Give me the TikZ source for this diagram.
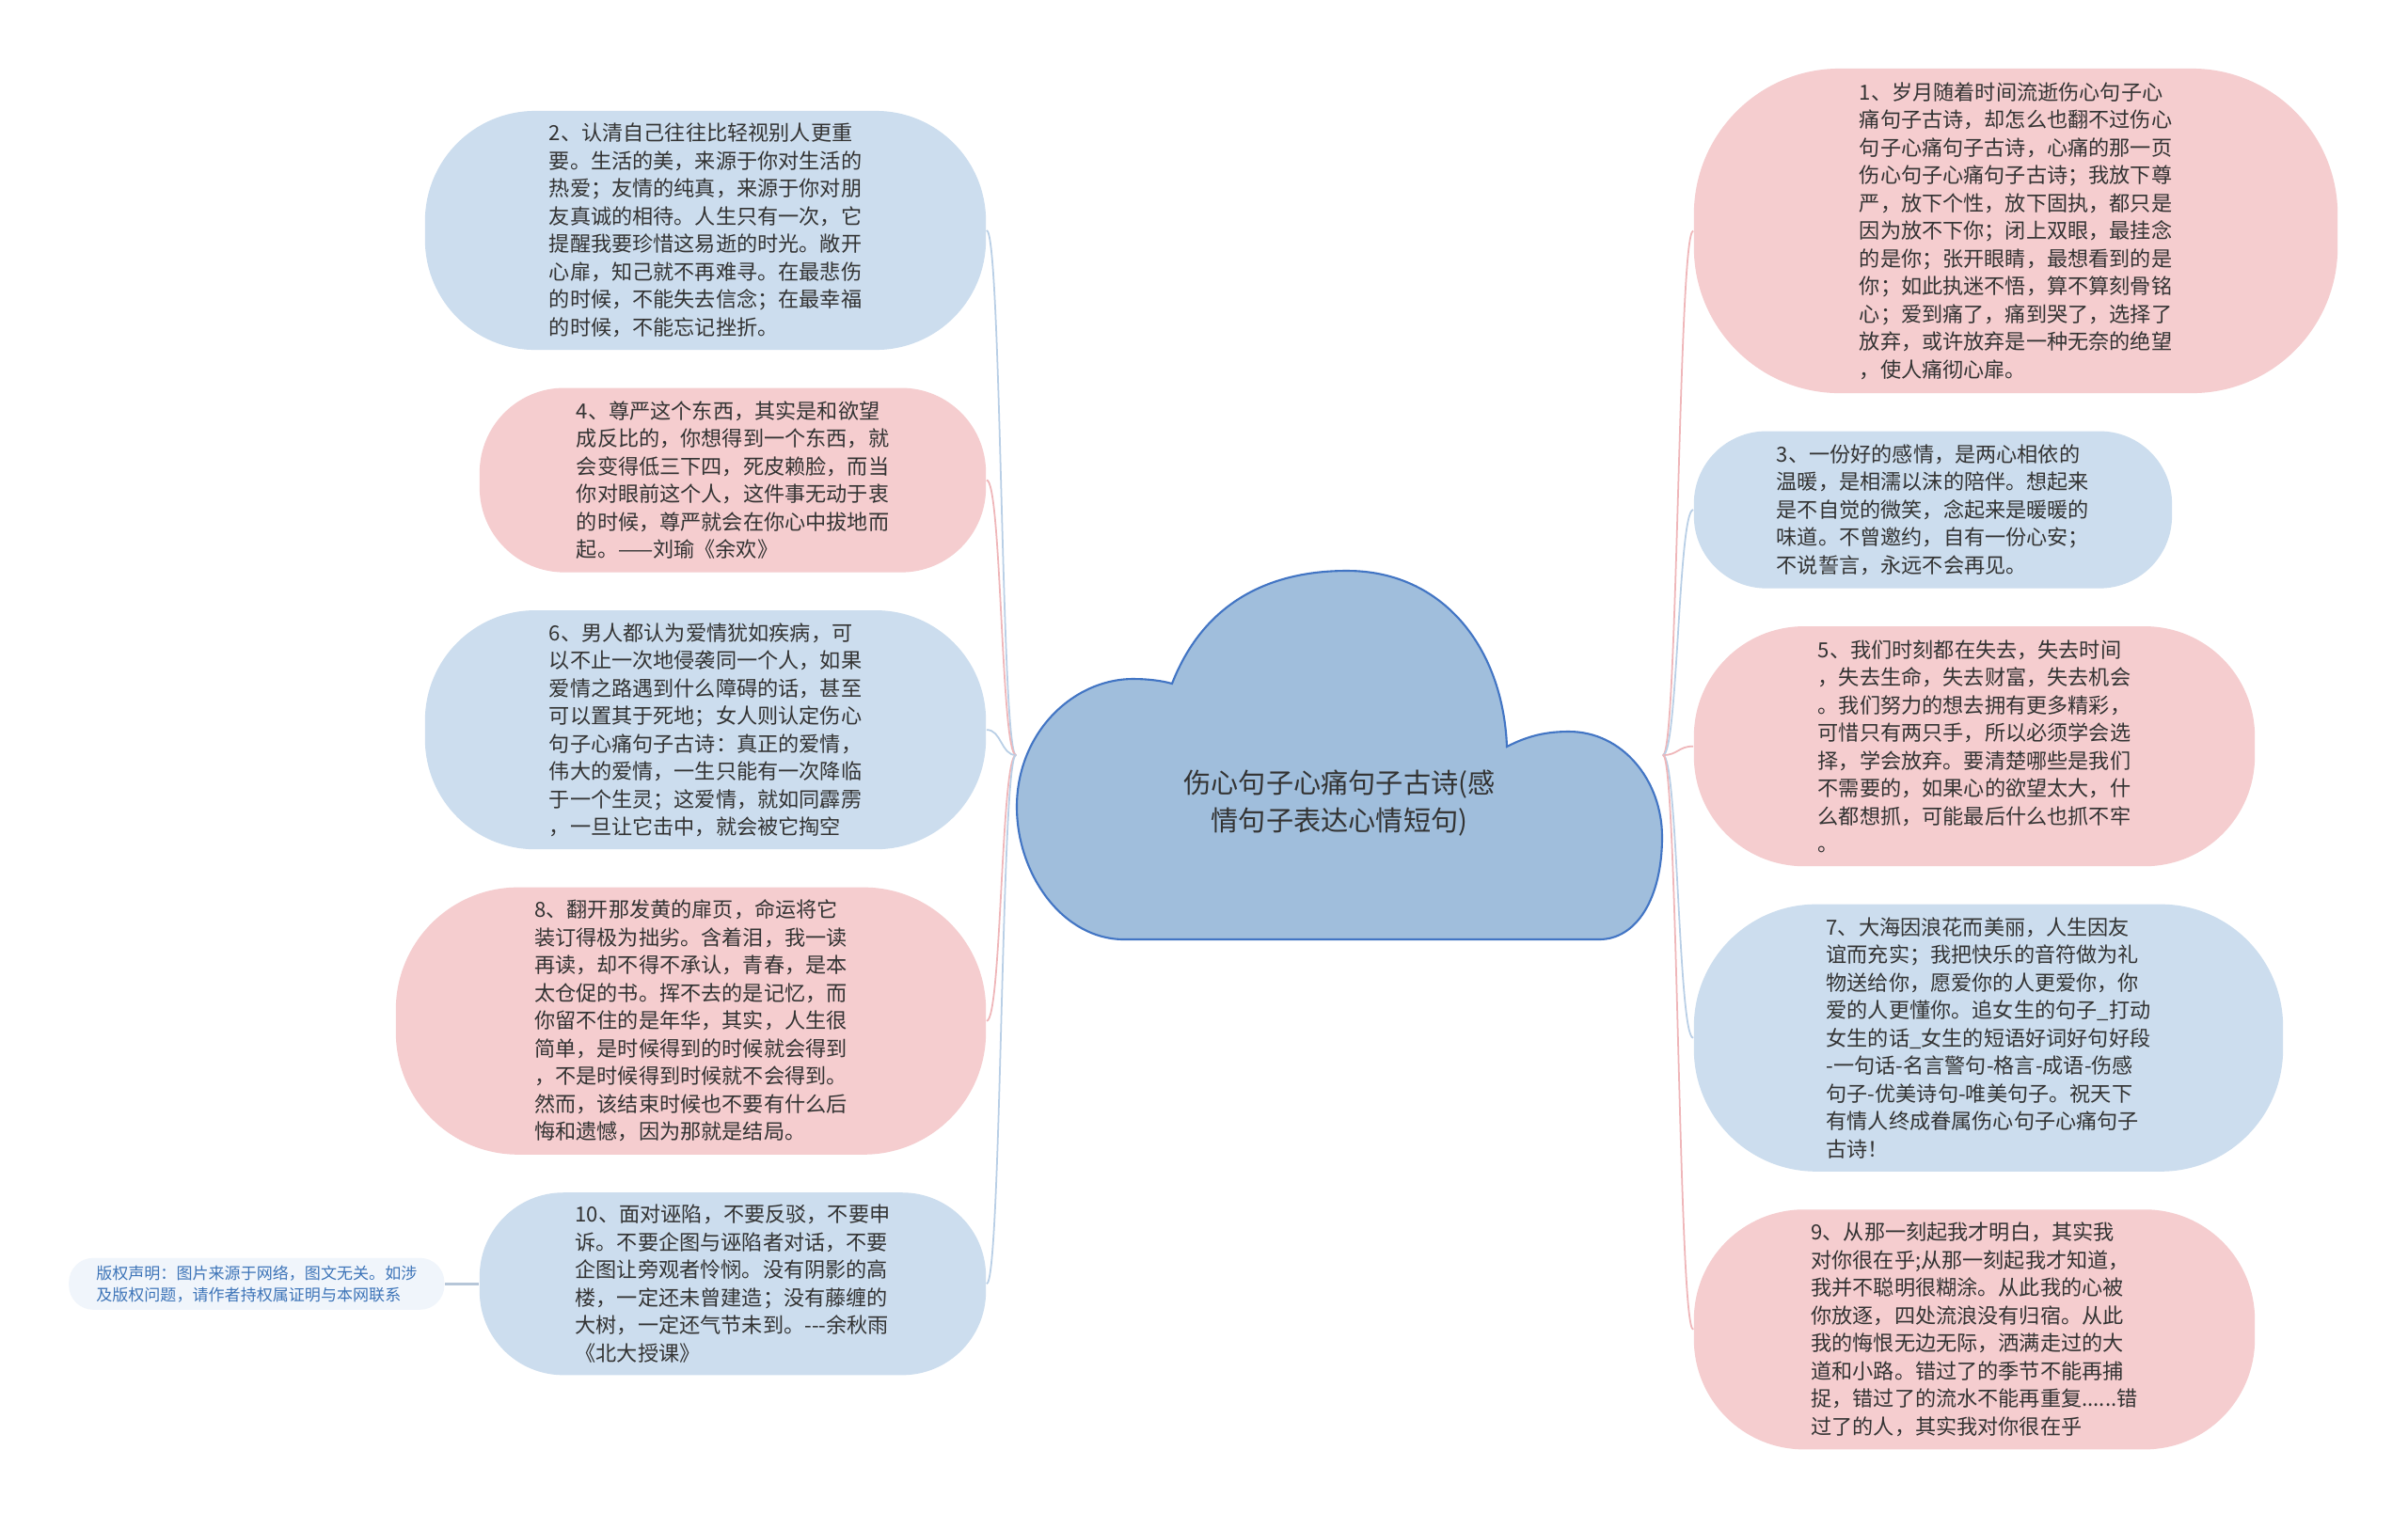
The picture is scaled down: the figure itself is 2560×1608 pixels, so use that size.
\documentclass[tikz,border=0pt]{standalone}
\usepackage{fontspec}
\setmainfont{Noto Sans CJK SC}
\usepackage{tikz}
\usetikzlibrary{positioning}

\definecolor{leafblue}{HTML}{CCDDEE}
\definecolor{leafpink}{HTML}{F5CDCF}
\definecolor{lineblue}{HTML}{B9CFE6}
\definecolor{linepink}{HTML}{EFB6B9}
\definecolor{cloudfill}{HTML}{A0BEDC}
\definecolor{cloudedge}{HTML}{4275C4}
\definecolor{notefill}{HTML}{F0F5FB}
\definecolor{notetext}{HTML}{3D74B8}
\definecolor{notelink}{HTML}{B6C6D8}
\definecolor{textgray}{HTML}{333333}

\newcommand{\leaffont}{\fontsize{6.3pt}{8.39pt}\selectfont}
\newcommand{\rootfont}{\fontsize{8.3pt}{11.1pt}\selectfont}
\newcommand{\notefont}{\fontsize{4.85pt}{6.55pt}\selectfont}

\begin{document}
\begin{tikzpicture}[
    x=0.01cm, y=-0.01cm,
    node distance=0.39cm and 0cm,
    leaf/.style={
        rectangle, inner sep=0pt,
        align=left, font=\leaffont, text=textgray
    },
    bluebox/.style={leaf, fill=leafblue},
    pinkbox/.style={leaf, fill=leafpink},
    blueline/.style={draw=lineblue, line width=0.5pt},
    pinkline/.style={draw=linepink, line width=0.5pt},
    cloudshape/.style={fill=cloudfill, draw=cloudedge, line width=0.6pt}
]
\fill[white] (0,0) rectangle (2560,1608);
\useasboundingbox (0,0) rectangle (2560,1608);

% 1. Root cloud (bounding node, outline, title)
\node[minimum width=6.86cm, minimum height=3.92cm, inner sep=0pt] (root) at (1424,803) {};
\draw[cloudshape] (1246,727)
    .. controls (1280,640) and (1350,607) .. (1432,607)
    .. controls (1535,607) and (1598,690) .. (1602,794)
    .. controls (1625,782) and (1645,778) .. (1668,778)
    .. controls (1725,778) and (1767,830) .. (1767,890)
    .. controls (1767,955) and (1740,999) .. (1700,999)
    -- (1195,999)
    .. controls (1130,999) and (1081,930) .. (1081,858)
    .. controls (1081,780) and (1140,722) .. (1205,722)
    .. controls (1220,722) and (1236,724) .. (1246,727) -- cycle;
\node[font=\rootfont, align=center, text=textgray] (title) at (1424,854)
    {伤心句子心痛句子古诗(感\\情句子表达心情短句)};

% 2. Right column (left edges aligned)
\node[pinkbox, minimum width=6.84cm, minimum height=3.45cm, rounded corners=1.55cm] (n1) at (2143,245.5) {
    1、岁月随着时间流逝伤心句子心\\
    痛句子古诗，却怎么也翻不过伤心\\
    句子心痛句子古诗，心痛的那一页\\
    伤心句子心痛句子古诗；我放下尊\\
    严，放下个性，放下固执，都只是\\
    因为放不下你；闭上双眼，最挂念\\
    的是你；张开眼睛，最想看到的是\\
    你；如此执迷不悟，算不算刻骨铭\\
    心；爱到痛了，痛到哭了，选择了\\
    放弃，或许放弃是一种无奈的绝望\\
    ，使人痛彻心扉。};
\node[bluebox, minimum width=5.08cm, minimum height=1.67cm, rounded corners=0.77cm, below right=of n1.south west] (n3) {
    3、一份好的感情，是两心相依的\\
    温暖，是相濡以沫的陪伴。想起来\\
    是不自觉的微笑，念起来是暖暖的\\
    味道。不曾邀约，自有一份心安；\\
    不说誓言，永远不会再见。};
\node[pinkbox, minimum width=5.96cm, minimum height=2.55cm, rounded corners=1.17cm, below right=of n3.south west] (n5) {
    5、我们时刻都在失去，失去时间\\
    ，失去生命，失去财富，失去机会\\
    。我们努力的想去拥有更多精彩，\\
    可惜只有两只手，所以必须学会选\\
    择，学会放弃。要清楚哪些是我们\\
    不需要的，如果心的欲望太大，什\\
    么都想抓，可能最后什么也抓不牢\\
    。};
\node[bluebox, minimum width=6.26cm, minimum height=2.84cm, rounded corners=1.3cm, below right=of n5.south west] (n7) {
    7、大海因浪花而美丽，人生因友\\
    谊而充实；我把快乐的音符做为礼\\
    物送给你，愿爱你的人更爱你，你\\
    爱的人更懂你。追女生的句子\_打动\\
    女生的话\_女生的短语好词好句好段\\
    -一句话-名言警句-格言-成语-伤感\\
    句子-优美诗句-唯美句子。祝天下\\
    有情人终成眷属伤心句子心痛句子\\
    古诗！};
\node[pinkbox, minimum width=5.96cm, minimum height=2.55cm, rounded corners=1.17cm, below right=of n7.south west] (n9) {
    9、从那一刻起我才明白，其实我\\
    对你很在乎;从那一刻起我才知道，\\
    我并不聪明很糊涂。从此我的心被\\
    你放逐，四处流浪没有归宿。从此\\
    我的悔恨无边无际，洒满走过的大\\
    道和小路。错过了的季节不能再捕\\
    捉，错过了的流水不能再重复......错\\
    过了的人，其实我对你很在乎};

% 3. Left column (right edges aligned)
\node[bluebox, minimum width=5.96cm, minimum height=2.54cm, rounded corners=1.17cm] (n2) at (750,245) {
    2、认清自己往往比轻视别人更重\\
    要。生活的美，来源于你对生活的\\
    热爱；友情的纯真，来源于你对朋\\
    友真诚的相待。人生只有一次，它\\
    提醒我要珍惜这易逝的时光。敞开\\
    心扉，知己就不再难寻。在最悲伤\\
    的时候，不能失去信念；在最幸福\\
    的时候，不能忘记挫折。};
\node[pinkbox, minimum width=5.38cm, minimum height=1.96cm, rounded corners=0.9cm, below left=of n2.south east] (n4) {
    4、尊严这个东西，其实是和欲望\\
    成反比的，你想得到一个东西，就\\
    会变得低三下四，死皮赖脸，而当\\
    你对眼前这个人，这件事无动于衷\\
    的时候，尊严就会在你心中拔地而\\
    起。——刘瑜《余欢》};
\node[bluebox, minimum width=5.96cm, minimum height=2.54cm, rounded corners=1.17cm, below left=of n4.south east] (n6) {
    6、男人都认为爱情犹如疾病，可\\
    以不止一次地侵袭同一个人，如果\\
    爱情之路遇到什么障碍的话，甚至\\
    可以置其于死地；女人则认定伤心\\
    句子心痛句子古诗：真正的爱情，\\
    伟大的爱情，一生只能有一次降临\\
    于一个生灵；这爱情，就如同霹雳\\
    ，一旦让它击中，就会被它掏空};
\node[pinkbox, minimum width=6.27cm, minimum height=2.84cm, rounded corners=1.3cm, below left=of n6.south east] (n8) {
    8、翻开那发黄的扉页，命运将它\\
    装订得极为拙劣。含着泪，我一读\\
    再读，却不得不承认，青春，是本\\
    太仓促的书。挥不去的是记忆，而\\
    你留不住的是年华，其实，人生很\\
    简单，是时候得到的时候就会得到\\
    ，不是时候得到时候就不会得到。\\
    然而，该结束时候也不要有什么后\\
    悔和遗憾，因为那就是结局。};
\node[bluebox, minimum width=5.38cm, minimum height=1.94cm, rounded corners=0.89cm, below left=of n8.south east] (n10) {
    10、面对诬陷，不要反驳，不要申\\
    诉。不要企图与诬陷者对话，不要\\
    企图让旁观者怜悯。没有阴影的高\\
    楼，一定还未曾建造；没有藤缠的\\
    大树，一定还气节未到。-{}-{}-余秋雨\\
    《北大授课》};

% 4. Copyright note
\node[leaf, fill=notefill, text=notetext, font=\notefont, minimum width=3.99cm, minimum height=0.55cm, rounded corners=0.26cm, left=0.36cm of n10] (note) {
    版权声明：图片来源于网络，图文无关。如涉\\
    及版权问题，请作者持权属证明与本网联系};

% 5. Connectors
\draw[pinkline] (root.east) .. controls +(16,0) and +(-16,0) .. (n1.west);
\draw[blueline] (root.east) .. controls +(16,0) and +(-16,0) .. (n3.west);
\draw[pinkline] (root.east) .. controls +(16,0) and +(-16,0) .. (n5.west);
\draw[blueline] (root.east) .. controls +(16,0) and +(-16,0) .. (n7.west);
\draw[pinkline] (root.east) .. controls +(16,0) and +(-16,0) .. (n9.west);
\draw[blueline] (root.west) .. controls +(-16,0) and +(16,0) .. (n2.east);
\draw[pinkline] (root.west) .. controls +(-16,0) and +(16,0) .. (n4.east);
\draw[blueline] (root.west) .. controls +(-16,0) and +(16,0) .. (n6.east);
\draw[pinkline] (root.west) .. controls +(-16,0) and +(16,0) .. (n8.east);
\draw[blueline] (root.west) .. controls +(-16,0) and +(16,0) .. (n10.east);
\draw[draw=notelink, line width=0.7pt] (n10.west) -- (note.east);

\end{tikzpicture}
\end{document}
